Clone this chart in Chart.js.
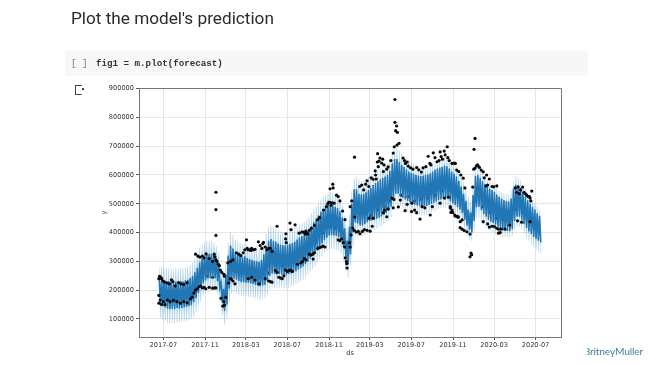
<!DOCTYPE html>
<html><head><meta charset="utf-8">
<script src="https://cdn.jsdelivr.net/npm/chart.js@4/dist/chart.umd.min.js"></script>
<style>
html,body{margin:0;padding:0;background:#fff;width:650px;height:365px;overflow:hidden}
#wrap{position:relative;width:650px;height:365px;filter:blur(0.4px)}
canvas{position:absolute;left:0;top:0}
#title{position:absolute;left:71px;top:8px;font:400 17.2px Roboto,sans-serif;color:#2b2b2b;white-space:nowrap}
#cell{position:absolute;left:65px;top:51px;width:523px;height:25px;background:#f7f7f7}
#br{position:absolute;left:71px;top:58px;font:9.2px "Liberation Mono",monospace;color:#777;white-space:pre}
#code{position:absolute;left:96px;top:58px;font:bold 9.2px "Liberation Mono",monospace;color:#333;white-space:pre}
#icon{position:absolute;left:75px;top:85px;width:6px;height:8px;border:1.3px solid #444;border-right:none;border-radius:1px}
#icon:after{content:"";position:absolute;left:6px;top:2px;width:2px;height:2px;background:#444}
#mark{position:absolute;left:587px;top:345px;width:57px;height:14px;overflow:hidden}
#mark span{position:absolute;right:1px;top:0;font:10.2px Lato,sans-serif;letter-spacing:-0.15px;color:#3f8096;white-space:nowrap}
</style></head><body>
<div id="wrap">
<canvas id="c" width="650" height="365"></canvas>
<div id="title">Plot the model's prediction</div>
<div id="cell"></div>
<div id="br">[ ]</div>
<div id="code">fig1 = m.plot(forecast)</div>
<div id="icon"></div>
<div id="mark"><span>BritneyMuller</span></div>
</div>
<script>
// x values are days counted from 2017-07-01; y values in thousands
const firstWeekDay = -12;
const xTickDays = [0,123,243,365,488,608,730,853,974,1096];
const xTickLabels = ['2017-07','2017-11','2018-03','2018-07','2018-11','2019-03','2019-07','2019-11','2020-03','2020-07'];
const yTicks = [100000,200000,300000,400000,500000,600000,700000,800000,900000];

const weekdayForecast = [
238,236,234,232,232,230,228,230,228,232,
230,234,236,242,250,262,278,296,310,320,
324,326,326,322,312,288,225,205,255,320,
355,345,330,322,318,316,318,312,308,305,
302,300,298,305,325,350,372,378,372,368,
362,358,356,356,358,360,364,368,376,384,
388,394,402,412,422,436,448,460,472,482,
490,496,496,494,490,485,474,452,415,372,
420,500,550,550,535,532,535,540,548,555,
565,572,578,585,590,595,600,615,640,655,
655,645,635,628,620,612,608,604,600,598,
596,598,600,602,606,612,618,622,626,628,
632,630,622,612,605,595,580,560,535,510,
480,470,530,596,600,590,578,568,560,552,
548,542,532,524,518,513,510,508,518,552,
566,565,555,540,525,512,500,490,480,468,
458];
const weekendForecast = [
150,146,140,136,134,136,135,138,136,138,
140,142,144,148,158,172,190,208,224,234,
240,242,244,242,232,208,160,128,150,205,
235,240,236,232,228,228,226,226,224,222,
218,216,214,216,218,232,250,258,256,254,
256,254,254,254,256,258,262,266,272,276,
282,290,300,310,320,328,338,350,362,374,
382,390,392,390,388,384,374,350,315,290,
325,400,435,432,425,425,430,436,440,442,
445,448,452,456,462,468,476,490,515,535,
535,528,520,515,510,505,500,497,494,492,
490,490,492,496,500,504,508,512,515,518,
520,518,508,502,496,488,480,468,445,425,
410,400,440,488,490,478,465,455,445,438,
433,428,420,414,410,408,406,405,412,440,
455,455,445,430,415,404,395,385,378,372,
366];
const upperBound = [
284,282,278,278,276,276,272,276,274,278,
276,280,282,288,296,310,330,346,358,366,
370,372,372,366,354,332,272,252,300,365,
402,392,376,368,364,360,364,358,352,350,
348,346,344,352,372,396,418,424,418,414,
408,404,402,402,404,406,410,414,422,428,
432,438,446,456,468,480,492,504,516,528,
532,540,540,538,534,530,518,496,460,416,
462,545,590,594,584,580,582,586,592,598,
604,610,616,622,626,632,640,650,670,696,
696,686,676,668,660,652,645,640,636,632,
630,630,632,636,640,644,648,652,656,660,
668,668,655,646,638,628,612,592,575,552,
525,512,566,620,628,620,608,596,586,578,
572,566,555,545,540,537,534,532,545,578,
596,594,582,566,552,538,526,514,504,492,
478];
const lowerBound = [
102,96,92,86,84,86,85,88,88,90,
92,94,96,100,108,122,142,160,178,190,
196,198,200,198,186,160,112,80,102,158,
188,192,188,184,180,180,178,176,176,174,
172,170,166,170,172,186,204,210,208,206,
208,206,206,206,208,212,216,220,226,230,
236,244,254,264,274,284,296,306,318,328,
334,342,344,342,340,336,326,302,268,242,
285,350,385,385,385,386,390,396,402,406,
410,414,418,422,428,434,442,454,480,500,
500,492,485,480,476,472,468,465,462,460,
458,458,460,464,468,472,476,480,484,488,
488,486,476,468,462,452,442,428,408,390,
375,370,405,450,452,440,426,416,408,404,
400,395,390,386,384,384,382,382,388,410,
420,420,410,395,382,370,358,348,340,332,
324];

// observed points: [day, value]
const observedHigh = [
[-13,240],[-11,248],[-9,246],[-7,243],[-5,240],[-1,232],[4,228],[11,225],[18,222],[24,236],[28,230],[35,215],[45,226],[52,222],[60,220],[70,226],
[95,325],[102,318],[108,315],[115,318],[120,312],[126,326],[135,310],[145,300],[150,325],[152,316],[155,305],[158,300],[162,290],[165,285],[168,270],[172,262],[178,255],[180,248],[155,540],[155,480],[155,390],
[190,295],[198,300],[205,305],[215,330],[222,325],[228,320],[235,330],[240,340],[245,375],[247,345],[250,340],[255,340],[258,338],[260,345],[265,340],[270,342],[280,368],[285,355],[290,345],[293,362],[295,366],[300,350],[305,340],[310,345],[315,345],[320,335],
[335,422],[360,378],[361,396],[362,365],[373,433],[376,410],[388,427],[400,398],[408,402],[412,402],[415,400],[418,395],[420,405],[423,398],[425,395],[430,408],[436,415],[445,425],[455,445],[460,452],
[472,478],[480,490],[484,500],[487,505],[490,505],[491,552],[494,495],[497,503],[499,568],[500,555],[503,502],[510,530],[515,525],[520,510],[528,475],[535,445],[550,490],[555,510],[563,662],
[578,560],[584,565],[590,548],[596,568],[600,580],[605,560],[612,590],[618,585],[624,614],[625,600],[627,586],[630,645],[631,674],[633,629],[635,648],[638,659],[643,641],[646,655],[648,612],[650,635],[658,620],[662,628],[670,650],
[677,676],[680,698],[682,862],[682,783],[684,754],[687,770],[688,704],[689,748],[694,710],[706,659],[710,650],[713,640],[718,645],[721,631],[728,625],[735,620],[746,626],[752,618],[760,610],[765,625],[773,629],[780,665],[785,640],[788,635],[795,677],[800,660],[806,646],[812,650],[815,680],[818,664],[822,655],[827,683],[830,670],[836,698],[838,660],[842,650],[850,640],[856,641],[860,640],[864,617],[870,612],[876,600],[883,589],[888,555],
[911,558],[915,689],[918,727],[914,620],[918,624],[922,632],[925,635],[928,630],[931,626],[936,617],[942,611],[945,590],[952,600],[950,562],[955,565],[960,586],[968,560],[973,559],[982,562],
[1036,555],[1040,540],[1045,558],[1048,535],[1052,548],[1058,558],[1062,540],[1066,535],[1070,530],[1074,525],[1078,525],[1080,520],[1082,510],[1085,544]
];
const observedLow = [
[-13,182],[-13,155],[-9,166],[-5,150],[0,160],[5,150],[12,166],[20,160],[30,165],[40,160],[50,155],[60,160],[70,156],[80,170],[85,176],[90,190],[95,200],
[100,205],[105,212],[110,215],[115,208],[120,210],[125,205],[135,210],[145,207],[150,208],[155,208],[170,172],[175,145],[178,160],[180,148],[184,175],
[192,225],[197,240],[200,238],[205,232],[211,222],[250,240],[260,245],[270,235],[282,222],[300,240],[310,232],[315,230],[320,228],
[330,268],[335,262],[340,245],[345,243],[350,240],[355,250],[360,270],[365,265],[370,268],[375,270],[380,265],[395,290],[405,295],[410,300],[415,310],[420,305],[430,325],[435,322],[440,325],[441,308],[445,330],
[455,345],[460,348],[465,350],[470,353],[476,350],[515,375],[520,372],[525,378],[530,365],[534,350],[536,312],[539,300],[540,292],[541,277],[548,365],[550,350],
[553,392],[558,416],[562,408],[564,454],[568,402],[574,404],[579,396],[586,404],[592,410],[600,408],[606,450],[609,405],[615,422],[618,450],
[648,469],[652,478],[658,455],[662,482],[673,520],[677,486],[679,515],[692,489],[698,513],[712,476],[718,498],[731,473],[732,502],[740,478],[746,469],[756,447],[762,490],[770,486],[786,461],[792,490],[815,502],[828,520],[840,523],[845,485],[847,470],[860,457],[868,455],
[845,490],[850,478],[852,470],[858,461],[865,456],[868,453],[874,438],[880,444],[874,417],[880,412],[886,407],[894,403],[903,395],[903,316],[906,329],[908,323],
[942,438],[955,430],[960,419],[968,422],[975,421],[982,415],[987,412],[987,398],[992,400],[995,412],[1006,412],[1020,426],[1043,441],[1055,436],[1080,438]
];
const observedMid = [
[10,185],[25,180],[40,182],[55,178],[70,185],[100,240],[115,245],[130,250],[145,245],[200,270],[215,265],[230,260],[245,255],[260,262],[275,255],[290,250],[310,260],[330,290],[350,285],[370,295],[390,300],[410,330],[430,345],[450,370],[470,400],[490,420],[505,415],[520,410],[565,470],[580,470],[595,465],[610,460],[630,480],[650,490],[665,510],[700,530],[720,525],[740,510],[760,515],[780,520],[800,530],[820,545],[840,560],[860,530],[920,510],[940,490],[960,470],[980,450],[1000,445],[1020,450],[1040,480],[1060,470],[1080,460],[1095,440],[1105,420]
];

const K = 1000;
const zigzag = (a, b) => a.flatMap((v, i) => [
  {x: firstWeekDay + 7*i, y: v*K},
  {x: firstWeekDay + 7*i + 3.5, y: b[i]*K}
]);
const toPts = a => a.map(p => ({x: p[0], y: p[1]*K}));
const bandTop = upperBound.flatMap((v,i) => [
  {x: firstWeekDay+7*i, y: v*K},
  {x: firstWeekDay+7*i+3.5, y: (weekendForecast[i]+v-weekdayForecast[i])*K}
]);
const bandBottom = lowerBound.flatMap((v,i) => [
  {x: firstWeekDay+7*i, y: (weekdayForecast[i]-(weekendForecast[i]-v))*K},
  {x: firstWeekDay+7*i+3.5, y: v*K}
]);

new Chart(document.getElementById('c'), {
  type: 'line',
  data: { datasets: [
    {label:'y', type:'scatter', data: toPts(observedHigh.concat(observedLow)), backgroundColor:'#0a0a0a', borderWidth:0, pointRadius:1.6, order:0},
    {label:'forecast', data: zigzag(weekdayForecast, weekendForecast), borderColor:'#2176b5', borderWidth:1.55, pointRadius:0, tension:0, fill:false, order:1},
    {label:'upper', data: bandTop, borderColor:'rgba(0,114,178,0.16)', borderWidth:0.7, backgroundColor:'rgba(0,114,178,0.28)', pointRadius:0, tension:0, fill:'+1', order:2},
    {label:'lower', data: bandBottom, borderColor:'rgba(0,114,178,0.16)', borderWidth:0.7, pointRadius:0, tension:0, fill:false, order:2},
    {label:'y inner', type:'scatter', data: toPts(observedMid), backgroundColor:'#0a0a0a', borderWidth:0, pointRadius:1.6, order:3}
  ]},
  options: {
    responsive:false, animation:false, parsing:false, normalized:true,
    layout:{padding:{left:100,top:88,right:89,bottom:8}},
    plugins:{legend:{display:false},tooltip:{enabled:false},decimation:{enabled:false}},
    scales:{
      x:{type:'linear', min:-71.6, max:1171,
        afterBuildTicks:s=>{s.ticks=xTickDays.map(v=>({value:v}));},
        afterFit:s=>{s.height=20;},
        border:{color:'#777',width:1},
        grid:{color:'#e6e6e6',lineWidth:1,tickLength:3,tickColor:'#555',drawTicks:true},
        ticks:{autoSkip:false,maxRotation:0,padding:1,color:'#333',font:{family:'DejaVu Sans',size:6.6},
          callback:(v)=>xTickLabels[xTickDays.indexOf(v)]},
        title:{display:true,text:'ds',color:'#333',font:{family:'DejaVu Sans',size:6.6},padding:{top:0,bottom:0}}
      },
      y:{type:'linear', min:37500, max:902000,
        afterBuildTicks:s=>{s.ticks=yTicks.map(v=>({value:v}));},
        afterFit:s=>{s.width=39;},
        border:{color:'#777',width:1},
        grid:{color:'#e6e6e6',lineWidth:1,tickLength:3,tickColor:'#555'},
        ticks:{autoSkip:false,padding:2,color:'#333',font:{family:'DejaVu Sans',size:6.6},callback:v=>String(v)},
        title:{display:true,text:'y',color:'#333',font:{family:'DejaVu Sans',size:6.6},padding:{top:0,bottom:0}}
      }
    }
  },
  plugins:[{id:'frame',afterDraw(c){const a=c.chartArea,x=c.ctx;x.save();x.strokeStyle='#777';x.lineWidth=1;
    x.beginPath();x.moveTo(a.left,a.top+.5);x.lineTo(a.right+.5,a.top+.5);x.lineTo(a.right+.5,a.bottom);x.stroke();x.restore();}}]
});
</script>
</body></html>
